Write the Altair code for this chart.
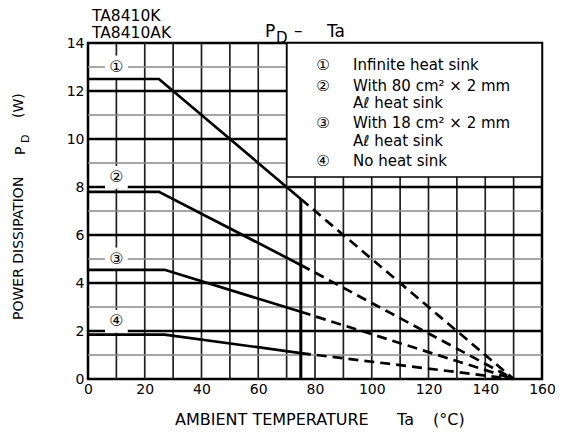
import altair as alt
import pandas as pd

# ---- data ----
series_ids = ["1", "2", "3", "4"]
circle_marks = ["①", "②", "③", "④"]
pd_max = [12.5, 7.8, 4.55, 1.85]       # flat part (W)
knee_temp = [25, 25, 27, 27]           # end of flat part (°C)
pd_at_limit = [7.5, 4.75, 2.8, 1.08]   # value at Ta = 75 °C
limit_temp = 75
zero_temp = 150
label_pd = [13.0, 8.4, 5.0, 2.4]       # circled-number label heights
label_temp = [10, 10, 10, 10]

legend_lines = ["Infinite heat sink", "With 80 cm² × 2 mm", "Aℓ heat sink",
                "With 18 cm² × 2 mm", "Aℓ heat sink", "No heat sink"]
legend_syms = ["①", "②", "", "③", "", "④"]
legend_y = [13.08, 12.21, 11.5, 10.67, 9.92, 9.08]

x_grid = [10, 20, 30, 40, 50, 60, 70, 80, 90, 100, 110, 120, 130, 140, 150]
y_grid = [1, 2, 3, 4, 5, 6, 7, 8, 9, 10, 11, 12, 13]
x_labels = [0, 20, 40, 60, 80, 100, 120, 140, 160]
y_labels = [0, 2, 4, 6, 8, 10, 12, 14]

FONT = "DejaVu Sans"

# ---- tables ----
solid_rows, dash_rows = [], []
for s, m, k, l in zip(series_ids, pd_max, knee_temp, pd_at_limit):
    solid_rows += [dict(s=s, t=0, p=m), dict(s=s, t=k, p=m), dict(s=s, t=limit_temp, p=l)]
    dash_rows += [dict(s=s, t=limit_temp, p=l), dict(s=s, t=zero_temp, p=0)]
solid_df = pd.DataFrame(solid_rows)
dash_df = pd.DataFrame(dash_rows)
lab_df = pd.DataFrame(dict(t=label_temp, p=label_pd, lab=circle_marks))
leg_df = pd.DataFrame(dict(y=legend_y, sym=legend_syms, txt=legend_lines))
vline_df = pd.DataFrame(dict(t=[limit_temp], p0=[0], p1=[pd_at_limit[0]]))
box_df = pd.DataFrame(dict(t0=[70.1], t1=[160], p0=[8.42], p1=[14]))
vgrid_df = pd.DataFrame(dict(gx=[float(v) for v in x_grid]))
hmajor_df = pd.DataFrame(dict(gy=[float(v) for v in y_grid if v % 2 == 0]))
hminor_df = pd.DataFrame(dict(gy=[float(v) for v in y_grid if v % 2 == 1]))

xs = alt.Scale(domain=[0, 160], nice=False, zero=False)
ys = alt.Scale(domain=[0, 14], nice=False, zero=False)

x_axis = alt.Axis(values=x_labels, grid=False, ticks=False, domain=False,
                  title=None, labelFontSize=14, labelFont=FONT, labelColor="black",
                  labelPadding=3, labelFlush=False, labelOverlap=False)
y_axis = alt.Axis(values=y_labels, grid=False, ticks=False, domain=False, title=None,
                  labelFontSize=14, labelFont=FONT, labelColor="black", labelPadding=4,
                  labelFlush=False, labelOverlap=False)


def X(field):
    return alt.X(field, scale=xs, axis=x_axis)


def Y(field):
    return alt.Y(field, scale=ys, axis=y_axis)


vgrid = alt.Chart(vgrid_df).mark_rule(color="#202020", strokeWidth=1.7).encode(
    x=X("gx:Q"), y=alt.value(0), y2=alt.value(336))
hminor = alt.Chart(hminor_df).mark_rule(color="#8a8a8a", strokeWidth=1.6).encode(
    y=Y("gy:Q"), x=alt.value(0), x2=alt.value(454))
hmajor = alt.Chart(hmajor_df).mark_rule(color="black", strokeWidth=2.3).encode(
    y=Y("gy:Q"), x=alt.value(0), x2=alt.value(454))

box = alt.Chart(box_df).mark_rect(fill="white", stroke="black", strokeWidth=1.5).encode(
    x=X("t0:Q"), x2="t1:Q", y=Y("p0:Q"), y2="p1:Q")

lab_bg = alt.Chart(lab_df).mark_square(size=520, color="white", opacity=1, filled=True).encode(
    x=X("t:Q"), y=Y("p:Q"))

solid = alt.Chart(solid_df).mark_line(color="black", strokeWidth=2.7).encode(
    x=X("t:Q"), y=Y("p:Q"), detail="s:N", order="t:Q")

dashed = alt.Chart(dash_df).mark_line(color="black", strokeWidth=2.7, strokeDash=[10, 6]).encode(
    x=X("t:Q"), y=Y("p:Q"), detail="s:N", order="t:Q")

vline = alt.Chart(vline_df).mark_rule(color="black", strokeWidth=3).encode(
    x=X("t:Q"), y=Y("p0:Q"), y2="p1:Q")

lab_txt = alt.Chart(lab_df).mark_text(font=FONT, fontSize=16, color="black").encode(
    x=X("t:Q"), y=Y("p:Q"), text="lab:N")

leg_sym = alt.Chart(leg_df).mark_text(font=FONT, fontSize=15, color="black").encode(
    x=alt.value(323 - 88), y=Y("y:Q"), text="sym:N")
leg_txt = alt.Chart(leg_df).mark_text(font=FONT, fontSize=15, color="black", align="left").encode(
    x=alt.value(353 - 88), y=Y("y:Q"), text="txt:N")


# titles / axis titles as text pieces (pixel offsets relative to plot area)
def txt(s, x, y, size, angle=0, align="left", baseline="alphabetic"):
    kw = dict(font=FONT, fontSize=size, color="black", align=align, baseline=baseline, text=s)
    if angle:
        kw["angle"] = angle
    return alt.Chart(pd.DataFrame({"a": [0]})).mark_text(**kw).encode(x=alt.value(x), y=alt.value(y))


titles = [
    txt("TA8410K", 4, -22, 15.5),
    txt("TA8410AK", 4, -5, 15.5),
    txt("P", 177, -6, 17),
    txt("D", 188, 0, 15),
    txt("–", 206, -7, 17),
    txt("Ta", 239, -6, 17),
    txt("AMBIENT TEMPERATURE", 87, 382, 16),
    txt("Ta", 309, 382, 16),
    txt("(°C)", 345, 382, 16),
    txt("POWER DISSIPATION", -65, 277, 14, angle=270),
    txt("P", -63, 112, 14, angle=270),
    txt("D", -59, 100, 11, angle=270),
    txt("(W)", -65, 75, 14, angle=270),
]

chart = alt.layer(
    vgrid, hminor, hmajor, box, lab_bg, solid, dashed, vline, lab_txt, leg_sym, leg_txt, *titles
).properties(
    width=454, height=336,
    background="white",
    autosize=alt.AutoSizeParams(type="none"),
    padding={"left": 80, "top": 35, "right": 13, "bottom": 50},
).configure_view(stroke="black", strokeWidth=2.5)

chart.save("out.html", embed_options={"renderer": "svg", "actions": False})
